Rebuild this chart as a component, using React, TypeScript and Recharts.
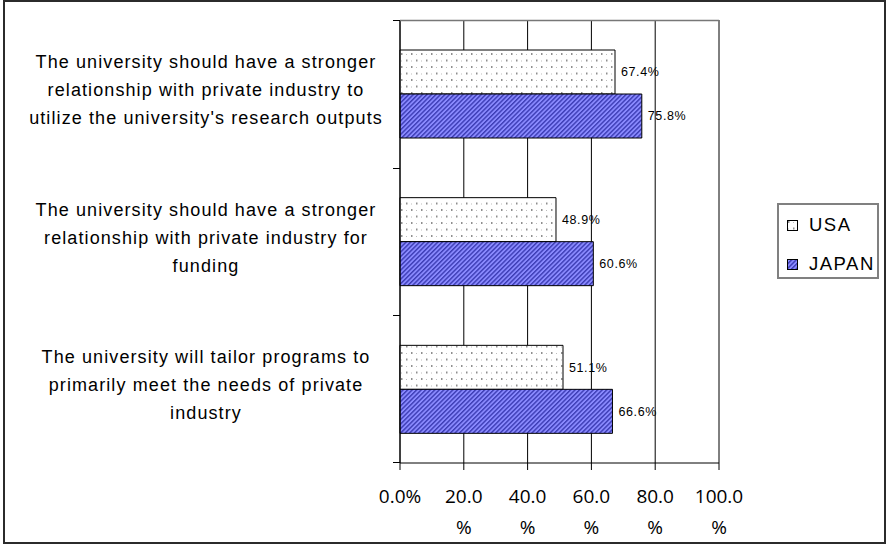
import React from 'react'
import {
  BarChart,
  Bar,
  XAxis,
  YAxis,
  CartesianGrid,
  LabelList,
  Legend,
} from 'recharts'

const categories = [
  "The university should have a stronger\nrelationship with private industry to\nutilize the university's research outputs",
  'The university should have a stronger\nrelationship with private industry for\nfunding',
  'The university will tailor programs to\nprimarily meet the needs of private\nindustry',
]
const usaValues = [67.4, 48.9, 51.1]
const japanValues = [75.8, 60.6, 66.6]
const xTicks = [0, 20, 40, 60, 80, 100]
const seriesNames = ['USA', 'JAPAN']

const data = categories.map((category, i) => ({
  category,
  usa: usaValues[i],
  japan: japanValues[i],
}))

const W = 888
const H = 548
const MARGIN = { top: 20, right: 169, bottom: 0, left: 0 }
const Y_AXIS_W = 400
const X_AXIS_H = 85
const PLOT_LEFT = MARGIN.left + Y_AXIS_W
const PLOT_RIGHT = W - MARGIN.right
const BAND = (H - MARGIN.top - MARGIN.bottom - X_AXIS_H) / categories.length
const LABEL_CENTER_X = 206
const FONT = '"Liberation Sans", Arial, sans-serif'

const CategoryTick = (props: any) => {
  const { y, payload, index } = props
  const lines = String(payload.value).split('\n')
  const top = Math.round(y - BAND / 2) + 0.5
  const bottom = Math.round(y + BAND / 2) - 0.5
  return (
    <g>
      {index === 0 && (
        <line x1={PLOT_LEFT} x2={PLOT_RIGHT} y1={top} y2={top} stroke="#777" strokeWidth={1.5} />
      )}
      <line x1={PLOT_LEFT - 7} x2={PLOT_LEFT} y1={top} y2={top} stroke="#000" />
      {index === categories.length - 1 && (
        <line x1={PLOT_LEFT - 7} x2={PLOT_LEFT} y1={bottom} y2={bottom} stroke="#000" />
      )}
      <text
        x={LABEL_CENTER_X}
        y={y}
        textAnchor="middle"
        fontFamily={FONT}
        fontSize={18}
        letterSpacing={1.1}
        fill="#000"
      >
        {lines.map((l, i) => (
          <tspan key={i} x={LABEL_CENTER_X} y={y + (i - (lines.length - 1) / 2) * 28 + 2}>
            {l}
          </tspan>
        ))}
      </text>
    </g>
  )
}

const ValueTick = (props: any) => {
  const { x, y, payload } = props
  const v = payload.value as number
  const lines = v === 0 ? ['0.0%'] : [v.toFixed(1), '%']
  return (
    <text
      x={x}
      y={y}
      textAnchor="middle"
      fontFamily='"Open Sans", sans-serif'
      fontSize={19}
      fill="#000"
    >
      {lines.map((l, i) => (
        <tspan key={i} x={x} y={y + 31 + i * 31}>
          {l}
        </tspan>
      ))}
    </text>
  )
}

const fills = ['url(#usaDots)', 'url(#japanStripes)']

const renderLegend = () => (
  <div
    style={{
      position: 'relative',
      width: 102,
      height: 76,
      boxSizing: 'border-box',
      border: '2px solid #808080',
      background: '#fff',
      fontFamily: FONT,
      fontSize: 18.5,
      letterSpacing: 1.5,
    }}
  >
    {seriesNames.map((name, i) => (
      <div
        key={name}
        style={{
          position: 'absolute',
          left: 8,
          top: i === 0 ? 9 : 48,
          display: 'flex',
          alignItems: 'center',
          height: 22,
        }}
      >
        <svg width={11} height={11} style={{ marginRight: 11 }}>
          <rect x={0.5} y={0.5} width={10} height={10} fill={fills[i]} stroke="#000" />
        </svg>
        <span>{name}</span>
      </div>
    ))}
  </div>
)

const fmt = (v: any) => `${Number(v).toFixed(1)}%`

export default function App() {
  return (
    <div style={{ position: 'absolute', left: 0, top: 0, width: W, height: H, background: '#fff' }}>
      <div
        style={{
          position: 'absolute',
          left: 3,
          top: 0,
          width: 883,
          height: 544,
          boxSizing: 'border-box',
          border: '2px solid #2b2b2b',
        }}
      />
      <div style={{ position: 'absolute', left: 0, top: 0 }}>
        <BarChart
          width={W}
          height={H}
          data={data}
          layout="vertical"
          margin={MARGIN}
          barGap={0}
          barSize={44}
        >
          <defs>
            <pattern id="usaDots" width="10" height="13" patternUnits="userSpaceOnUse">
              <rect width="10" height="13" fill="#fff" />
              <rect x="1" y="1" width="1.5" height="2" fill="#8f8f8f" />
              <rect x="6" y="7.5" width="1.5" height="2" fill="#8f8f8f" />
              <rect x="6" y="2" width="1" height="1" fill="#bdbdbd" />
              <rect x="1" y="8.5" width="1" height="1" fill="#bdbdbd" />
            </pattern>
            <pattern
              id="japanStripes"
              width="3.2"
              height="3.2"
              patternUnits="userSpaceOnUse"
              patternTransform="rotate(45)"
            >
              <rect width="3.2" height="3.2" fill="#8a8aff" />
              <rect x="0" y="0" width="1.4" height="3.2" fill="#3c3cb4" />
            </pattern>
          </defs>
          <CartesianGrid horizontal={false} stroke="#000" strokeOpacity={1} />
          <XAxis
            type="number"
            domain={[0, 100]}
            ticks={xTicks}
            interval={0}
            height={X_AXIS_H}
            tickSize={7}
            axisLine={{ stroke: '#000' }}
            tickLine={{ stroke: '#000' }}
            tick={<ValueTick />}
          />
          <YAxis
            type="category"
            dataKey="category"
            width={Y_AXIS_W}
            axisLine={{ stroke: '#000' }}
            tickLine={false}
            interval={0}
            tick={<CategoryTick />}
          />
          <Legend
            align="center"
            verticalAlign="middle"
            content={renderLegend}
            wrapperStyle={{ position: 'absolute', left: 777, top: 203, width: 102, height: 76 }}
          />
          <Bar dataKey="usa" name={seriesNames[0]} fill="url(#usaDots)" stroke="#000" isAnimationActive={false}>
            <LabelList
              dataKey="usa"
              position="right"
              offset={6}
              formatter={fmt}
              fill="#000"
              fontSize={12.5}
              fontFamily={FONT}
              letterSpacing={0.6}
            />
          </Bar>
          <Bar dataKey="japan" name={seriesNames[1]} fill="url(#japanStripes)" stroke="#000" isAnimationActive={false}>
            <LabelList
              dataKey="japan"
              position="right"
              offset={6}
              formatter={fmt}
              fill="#000"
              fontSize={12.5}
              fontFamily={FONT}
              letterSpacing={0.6}
            />
          </Bar>
        </BarChart>
      </div>
    </div>
  )
}
